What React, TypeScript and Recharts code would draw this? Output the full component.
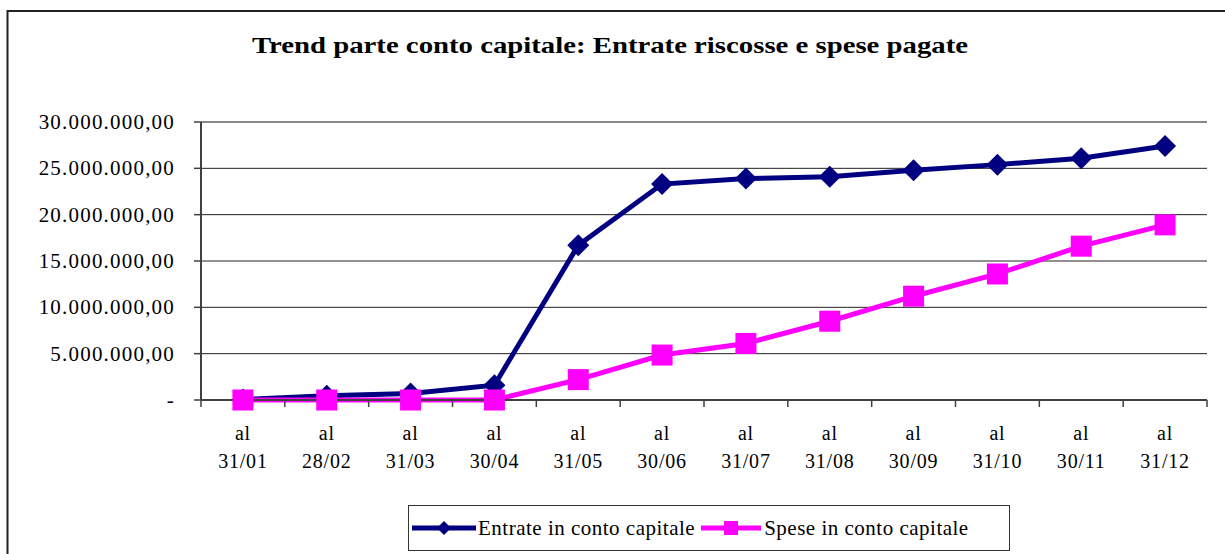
import React from "react";
import {
  LineChart,
  Line,
  XAxis,
  YAxis,
  CartesianGrid,
  Legend,
  Customized,
  ReferenceLine,
} from "recharts";

const categories = ["31/01", "28/02", "31/03", "30/04", "31/05", "30/06", "31/07", "31/08", "30/09", "31/10", "30/11", "31/12"];
const entrate = [50000, 450000, 700000, 1600000, 16700000, 23300000, 23900000, 24100000, 24800000, 25400000, 26100000, 27400000];
const spese = [0, 0, 0, 0, 2200000, 4850000, 6100000, 8500000, 11200000, 13600000, 16600000, 18900000];
const yTicks = [0, 5000000, 10000000, 15000000, 20000000, 25000000, 30000000];

const TITLE = "Trend parte conto capitale: Entrate riscosse e spese pagate";
const NAME_E = "Entrate in conto capitale";
const NAME_S = "Spese in conto capitale";
const NAVY = "#000080";
const MAGENTA = "#FF00FF";
const FONT = "'Liberation Serif', 'Times New Roman', serif";

const data = categories.map((c, i) => ({ label: c, entrate: entrate[i], spese: spese[i] }));

function fmt(v: number): string {
  if (v === 0) return "-";
  const s = Math.round(v).toString().replace(/\B(?=(\d{3})+(?!\d))/g, ".");
  return s + ",00";
}

const YTick = (props: any) => {
  const { x, y, payload } = props;
  return (
    <text x={x} y={y} textAnchor="end" dominantBaseline="central" fontFamily={FONT} fontSize={21} fill="#000" style={{ letterSpacing: "1.2px" }}>
      {fmt(payload.value)}
    </text>
  );
};

const XTick = (props: any) => {
  const { x, y, payload, index, visibleTicksCount } = props;
  const off = payload && typeof payload.offset === "number" && payload.offset > 0 ? payload.offset : 41.9;
  const isLast = index === (visibleTicksCount ? visibleTicksCount - 1 : categories.length - 1);
  return (
    <g>
      <line x1={x - off} x2={x - off} y1={y - 7} y2={y} stroke="#404040" strokeWidth={1.5} />
      {isLast && <line x1={x + off} x2={x + off} y1={y - 7} y2={y} stroke="#404040" strokeWidth={1.5} />}
      <text x={x} y={y + 26} textAnchor="middle" dominantBaseline="central" fontFamily={FONT} fontSize={20} fill="#000" style={{ letterSpacing: "0.8px" }}>
        al
      </text>
      <text x={x} y={y + 54} textAnchor="middle" dominantBaseline="central" fontFamily={FONT} fontSize={20} fill="#000" style={{ letterSpacing: "0.8px" }}>
        {payload.value}
      </text>
    </g>
  );
};

const Diamond = (props: any) => {
  const { cx, cy } = props;
  if (cx == null || cy == null) return null;
  const r = 11;
  return <polygon points={`${cx},${cy - r} ${cx + r},${cy} ${cx},${cy + r} ${cx - r},${cy}`} fill={NAVY} />;
};

const Square = (props: any) => {
  const { cx, cy } = props;
  if (cx == null || cy == null) return null;
  const h = 10.5;
  return <rect x={cx - h} y={cy - h} width={2 * h} height={2 * h} fill={MAGENTA} />;
};

const LegendContent = () => (
  <div
    style={{
      boxSizing: "border-box",
      width: 602,
      height: 46,
      border: "1.5px solid #333",
      background: "#fff",
      display: "flex",
      alignItems: "center",
      paddingLeft: 3,
      fontFamily: FONT,
      fontSize: 21,
      letterSpacing: "0.5px",
      color: "#000",
    }}
  >
    <svg width={64} height={24} style={{ flex: "none" }}>
      <line x1={0} x2={64} y1={12} y2={12} stroke={NAVY} strokeWidth={5} />
      <polygon points="32,5 39,12 32,19 25,12" fill={NAVY} />
    </svg>
    <span style={{ marginLeft: 2, whiteSpace: "nowrap" }}>{NAME_E}</span>
    <svg width={60} height={24} style={{ flex: "none", marginLeft: 6 }}>
      <line x1={0} x2={60} y1={12} y2={12} stroke={MAGENTA} strokeWidth={5} />
      <rect x={23} y={5} width={14} height={14} fill={MAGENTA} />
    </svg>
    <span style={{ marginLeft: 3, whiteSpace: "nowrap" }}>{NAME_S}</span>
  </div>
);

const Decor = () => (
  <g>
    <line x1={7} x2={1225} y1={11} y2={11} stroke="#222" strokeWidth={2} />
    <line x1={7.5} x2={7.5} y1={10} y2={554} stroke="#222" strokeWidth={2} />
    <text
      x={610}
      y={45}
      textAnchor="middle"
      dominantBaseline="central"
      fontFamily={FONT}
      fontWeight="bold"
      fontSize={24}
      fill="#000"
      textLength={716}
      lengthAdjust="spacingAndGlyphs"
    >
      {TITLE}
    </text>
  </g>
);

export default function App() {
  return (
    <div
      style={{
        position: "fixed",
        left: 0,
        top: 0,
        width: 1225,
        height: 554,
        overflow: "hidden",
        background: "#fff",
      }}
    >
      <LineChart
        width={1225}
        height={554}
        data={data}
        margin={{ top: 122, right: 18, left: 0, bottom: 0 }}
      >
        <CartesianGrid horizontal={true} vertical={false} stroke="#222" strokeWidth={1} />
        <ReferenceLine y={30000000} stroke="#888" strokeWidth={2} />
        <XAxis
          dataKey="label"
          scale="band"
          height={154}
          axisLine={{ stroke: "#404040", strokeWidth: 2 }}
          tickLine={false}
          tickSize={7}
          tickMargin={0}
          interval={0}
          tick={<XTick />}
        />
        <YAxis
          width={201}
          domain={[0, 30000000]}
          ticks={yTicks}
          interval={0}
          axisLine={{ stroke: "#404040", strokeWidth: 2 }}
          tickLine={{ stroke: "#404040", strokeWidth: 1.5 }}
          tickSize={7}
          tickMargin={19}
          tick={<YTick />}
        />
        <YAxis
          yAxisId="r"
          orientation="right"
          width={0}
          tick={false}
          tickLine={false}
          axisLine={{ stroke: "#888", strokeWidth: 2 }}
        />
        <Line
          type="linear"
          dataKey="entrate"
          name={NAME_E}
          stroke={NAVY}
          strokeWidth={5}
          dot={<Diamond />}
          activeDot={false}
          isAnimationActive={false}
        />
        <Line
          type="linear"
          dataKey="spese"
          name={NAME_S}
          stroke={MAGENTA}
          strokeWidth={5}
          dot={<Square />}
          activeDot={false}
          isAnimationActive={false}
        />
        <Legend
          layout="horizontal"
          verticalAlign="middle"
          align="center"
          content={<LegendContent />}
          wrapperStyle={{ left: 408, top: 505, width: 602, height: 46 }}
        />
        <Customized component={<Decor />} />
      </LineChart>
    </div>
  );
}
